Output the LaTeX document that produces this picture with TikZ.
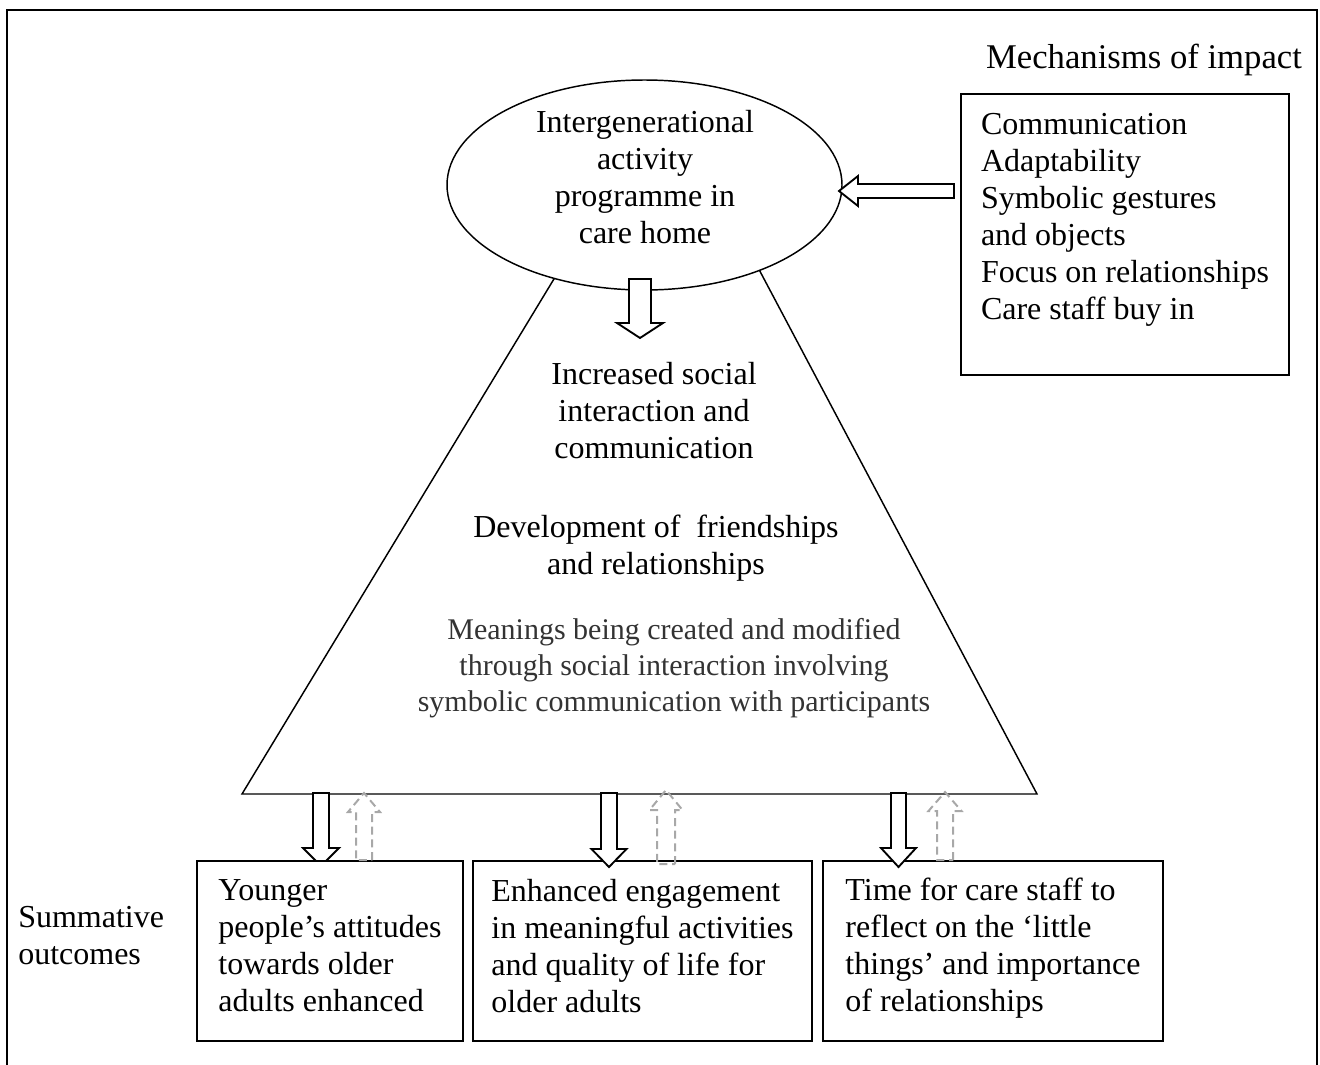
\documentclass[tikz,border=0pt]{standalone}
\usepackage{fontspec}
\setmainfont{Liberation Serif}
\usetikzlibrary{shapes.geometric}
\definecolor{backgray}{HTML}{A8A8A8}
\definecolor{softblack}{HTML}{333333}
\tikzset{
  % hollow block arrow pointing along local +y: shaft half width / head half width / length / head length
  pics/blockarrow/.style args={#1/#2/#3/#4}{code={
    \path[pic actions] (-#1,0) -- (-#1,{#3-#4}) -- (-#2,{#3-#4}) -- (0,#3)
      -- (#2,{#3-#4}) -- (#1,{#3-#4}) -- (#1,0) -- cycle;}},
  txt/.style={font=\fontsize{24}{27.75}\selectfont, inner sep=0pt},
  smalltxt/.style={font=\fontsize{22.5}{27}\selectfont, inner sep=0pt},
  outbox/.style={draw, line width=1.1pt, fill=white, inner sep=0pt},
  fwd/.style={draw, fill=white, line width=1.4pt},
  back/.style={draw=backgray, line width=1.5pt, dash pattern=on 6pt off 3.5pt},
}
\begin{document}
\begin{tikzpicture}[x=0.75pt,y=-0.75pt]
\useasboundingbox (0,0) rectangle (1320,1064);
% page frame, running off the bottom edge
\begin{scope}
  \clip (0,0) rectangle (1320,1064);
  \draw[line width=2.2pt] (7,10) rectangle (1317,1110);
\end{scope}

% the triangle of processes, partly hidden behind the programme ellipse
\draw[line width=1.1pt] (242,794) -- (666,94) -- (1037,794) -- cycle;

\node[draw, ellipse, line width=1.1pt, fill=white, minimum width=296.25pt,
      minimum height=157.5pt, inner sep=0pt] (prog) at (644.5,185) {};
\node[txt, align=center] (progtext) at (645,195)
  {Intergenerational\\activity\\programme in\\care home\\\mbox{}};

% mechanisms of impact
\node[font=\fontsize{26}{30}\selectfont, inner sep=0pt] (mechtitle) at (1144,60) {Mechanisms of impact};
\node[outbox, txt, align=left, minimum width=246pt, minimum height=210.75pt] (mech) at (1125,234.5)
  {Communication\\Adaptability\\Symbolic gestures\\and objects\\Focus on relationships\\Care staff buy in\\\mbox{}};
\pic[fwd, rotate=-90] (mecharrow) at (954,191) {blockarrow=7/15/115/19};

% processes inside the triangle
\pic[fwd] (progarrow) at (640,279) {blockarrow=11/23/59/15};
\node[txt, align=center] (interaction) at (654,411)
  {Increased social\\interaction and\\communication};
\node[txt, align=center] (friendship) at (656,548)
  {Development of\ \ friendships\\and relationships};
\node[smalltxt, align=center, text=softblack] (meanings) at (674,668)
  {Meanings being created and modified\\through social interaction involving\\symbolic communication with participants};

% summative outcomes
\node[txt, align=left, anchor=west] (summative) at (18,936) {Summative\\outcomes};
\pic[fwd] (down1) at (321,793) {blockarrow=8/18/73/18};
\node[outbox, minimum width=199.5pt, minimum height=135pt] (young) at (330,951) {};
\node[outbox, minimum width=254.25pt, minimum height=135pt] (engage) at (642.5,951) {};
\node[outbox, minimum width=255pt, minimum height=135pt] (staff) at (993,951) {};
\node[txt, align=left] (youngtext) at ([yshift=3.75pt]young.center)
  {Younger\\people’s attitudes\\towards older\\adults enhanced};
\node[txt, align=left] (engagetext) at ([yshift=3.75pt]engage.center)
  {Enhanced engagement\\in meaningful activities\\and quality of life for\\older adults};
\node[txt, align=left] (stafftext) at ([yshift=2pt]staff.center)
  {Time for care staff to\\reflect on the ‘little\\things’ and importance\\of relationships};
\pic[fwd] (down2) at (609,793) {blockarrow=8/17.5/74/18};
\pic[fwd] (down3) at (898.5,793) {blockarrow=7.5/17.5/74/19};

% feedback from outcomes back into the process
\pic[back, rotate=180] (up1) at (364,860) {blockarrow=8/16/67/19};
\pic[back, rotate=180] (up2) at (666,864) {blockarrow=9/16.5/74/20};
\pic[back, rotate=180] (up3) at (945,860) {blockarrow=8/16.5/68/19};
\end{tikzpicture}
\end{document}
